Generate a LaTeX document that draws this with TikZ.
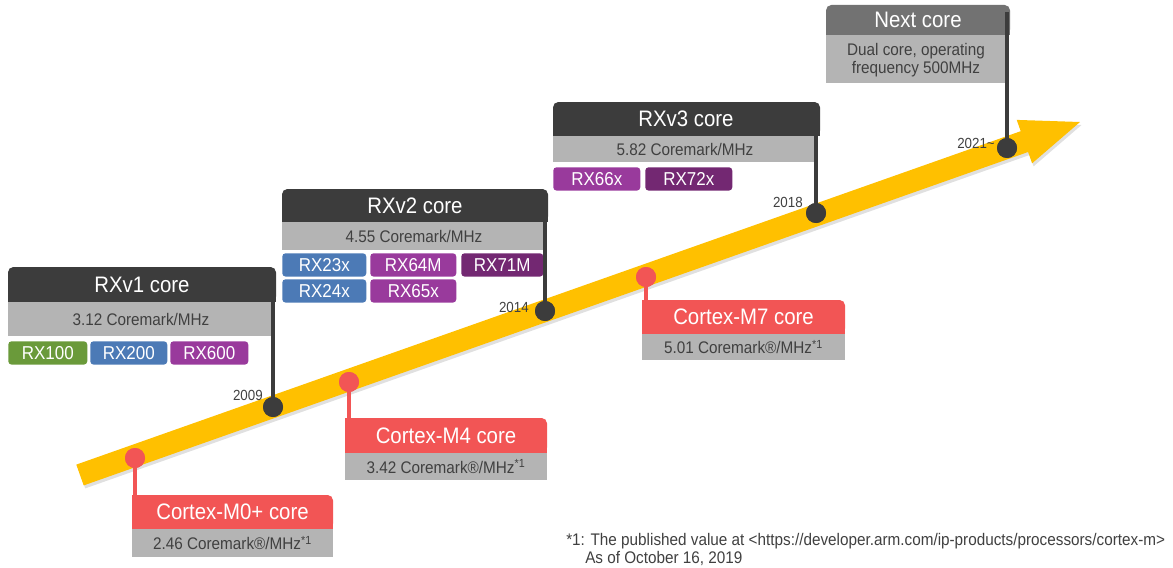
\documentclass[tikz,border=0pt]{standalone}
\usepackage{fontspec}
\setmainfont{Liberation Sans}[FakeStretch=0.91]
\definecolor{ydark}{HTML}{3C3C3C}
\definecolor{ygray}{HTML}{B4B4B4}
\definecolor{nextgray}{HTML}{727272}
\definecolor{cred}{HTML}{F25555}
\definecolor{gold}{HTML}{FFC000}
\definecolor{cgreen}{HTML}{6A9A3A}
\definecolor{cblue}{HTML}{4C7AB6}
\definecolor{cpurple}{HTML}{993A9C}
\definecolor{cdpurple}{HTML}{732872}
\definecolor{txtgray}{HTML}{404040}
\newcommand\roundtop[5]{\fill[#1,rounded corners=4pt] (#2,#3) rectangle (#4,#5); \fill[#1] (#2,{#3+8}) rectangle (#4,#5);}
\newcommand\redtop[4]{\roundtop{cred}{#1}{#2}{#3}{#4}\fill[cred] (#1,#2) rectangle ({#1+8},{#2+8});}
\tikzset{
  hdrtext/.style={text=white, font=\fontsize{16.8}{19}\selectfont, inner sep=0pt},
  bodytext/.style={text=txtgray, font=\fontsize{12.6}{14}\selectfont, inner sep=0pt},
  chip/.style={rounded corners=2.5pt, text=white, font=\fontsize{14}{16}\selectfont, minimum height=17.5pt, inner sep=0pt, anchor=north west},
  yeartext/.style={text=txtgray, font=\fontsize{11}{13}\selectfont, inner sep=0pt, anchor=east},
  fntext/.style={text=txtgray, font=\fontsize{12.6}{14}\selectfont, inner sep=0pt, anchor=base west},
  stemdark/.style={draw=ydark, line width=3pt},
  stemred/.style={draw=cred, line width=3pt},
  dotdark/.style={circle, fill=ydark, minimum size=15pt, inner sep=0pt},
  dotred/.style={circle, fill=cred, minimum size=15pt, inner sep=0pt},
}
\begin{document}
\begin{tikzpicture}[x=0.75pt,y=-0.75pt]
\useasboundingbox (0,0) rectangle (1173,567);
% arrow shadow and arrow
\fill[black, opacity=0.12] (85.2,488.4) -- (77.8,467.6) -- (1022.2,134.2) -- (1018.2,122.9) -- (1081.5,125) -- (1033.6,166.3) -- (1029.6,155.0) -- cycle;
\fill[gold] (83.7,485.4) -- (76.3,464.6) -- (1020.7,131.2) -- (1016.7,119.9) -- (1080,122) -- (1032.1,163.3) -- (1028.1,152.0) -- cycle;

% RXv1
\roundtop{ydark}{8}{267}{276}{302}
\fill[ygray] (8,302) rectangle (275,336);
\node[hdrtext] (v1) at (142,284.5) {RXv1 core};
\node[bodytext] (v1b) at (141,319) {3.12 Coremark/MHz};
\node[chip, fill=cgreen, minimum width=59.25pt] (rx100) at (8,341) {RX100};
\node[chip, fill=cblue, minimum width=57.75pt] (rx200) at (90,341) {RX200};
\node[chip, fill=cpurple, minimum width=58.5pt] (rx600) at (170,341) {RX600};

% RXv2
\roundtop{ydark}{282}{189}{548}{222}
\fill[ygray] (282,222) rectangle (547,250);
\node[hdrtext] (v2) at (415,205.5) {RXv2 core};
\node[bodytext] (v2b) at (414,236) {4.55 Coremark/MHz};
\node[chip, fill=cblue, minimum width=63pt] (rx23) at (282,253) {RX23x};
\node[chip, fill=cpurple, minimum width=64.5pt] (rx64) at (370,253) {RX64M};
\node[chip, fill=cdpurple, minimum width=61.5pt] (rx71) at (461,253) {RX71M};
\node[chip, fill=cblue, minimum width=63pt] (rx24) at (282,279) {RX24x};
\node[chip, fill=cpurple, minimum width=64.5pt] (rx65) at (370,279) {RX65x};

% RXv3
\roundtop{ydark}{553}{102}{820}{136}
\fill[ygray] (553,136) rectangle (818,162);
\node[hdrtext] (v3) at (686,119) {RXv3 core};
\node[bodytext] (v3b) at (685,149) {5.82 Coremark/MHz};
\node[chip, fill=cpurple, minimum width=65.25pt] (rx66) at (553,167) {RX66x};
\node[chip, fill=cdpurple, minimum width=65.25pt] (rx72) at (645,167) {RX72x};

% Next core
\roundtop{nextgray}{826}{5}{1010}{35}
\fill[ygray] (826,35) rectangle (1009,83);
\node[hdrtext] (nx) at (918,20) {Next core};
\node[bodytext, align=center] (nxb) at (916,60) {Dual core, operating\\frequency 500MHz};

% Cortex boxes
\redtop{132}{495}{333}{529}
\fill[ygray] (132,529) rectangle (333,557);
\node[hdrtext] (m0) at (232.5,512) {Cortex-M0+ core};
\node[bodytext] (m0b) at (232.5,543) {2.46 Coremark®/MHz\textsuperscript{*1}};

\redtop{345}{418}{547}{453}
\fill[ygray] (345,453) rectangle (547,480);
\node[hdrtext] (m4) at (446,435.5) {Cortex-M4 core};
\node[bodytext] (m4b) at (446,466.5) {3.42 Coremark®/MHz\textsuperscript{*1}};

\redtop{642}{300}{845}{334}
\fill[ygray] (642,334) rectangle (845,360);
\node[hdrtext] (m7) at (743.5,317) {Cortex-M7 core};
\node[bodytext] (m7b) at (743.5,347) {5.01 Coremark®/MHz\textsuperscript{*1}};

% stems and dots
\coordinate (s09) at (273,272);
\coordinate (s14) at (545,194);
\coordinate (s18) at (816,107);
\coordinate (s21) at (1007,12);
\coordinate (sm0) at (135,500);
\coordinate (sm4) at (349,423);
\coordinate (sm7) at (646,305);
\node[dotdark] (d09) at (273,407) {};
\node[dotdark] (d14) at (545,311) {};
\node[dotdark] (d18) at (816,213) {};
\node[dotdark] (d21) at (1007,148) {};
\node[dotred] (dm0) at (135,458) {};
\node[dotred] (dm4) at (349,382) {};
\node[dotred] (dm7) at (646,277) {};
\draw[stemdark] (s09) -- (d09.center);
\draw[stemdark] (s14) -- (d14.center);
\draw[stemdark] (s18) -- (d18.center);
\draw[stemdark] (s21) -- (d21.center);
\draw[stemred] (dm0.center) -- (sm0);
\draw[stemred] (dm4.center) -- (sm4);
\draw[stemred] (dm7.center) -- (sm7);
\node[dotdark] at (d09) {};
\node[dotdark] at (d14) {};
\node[dotdark] at (d18) {};
\node[dotdark] at (d21) {};
\node[dotred] at (dm0) {};
\node[dotred] at (dm4) {};
\node[dotred] at (dm7) {};

% year labels
\node[yeartext] (y09) at (263,395) {2009};
\node[yeartext] (y14) at (529,307) {2014};
\node[yeartext] (y18) at (803,202) {2018};
\node[yeartext] (y21) at (995,143) {2021\textasciitilde};

% footnote
\node[fntext] (fn1) at (566,545) {*1: The published value at <https://developer.arm.com/ip-products/processors/cortex-m>};
\node[fntext] (fn2) at (585,563) {As of October 16, 2019};
\end{tikzpicture}
\end{document}
